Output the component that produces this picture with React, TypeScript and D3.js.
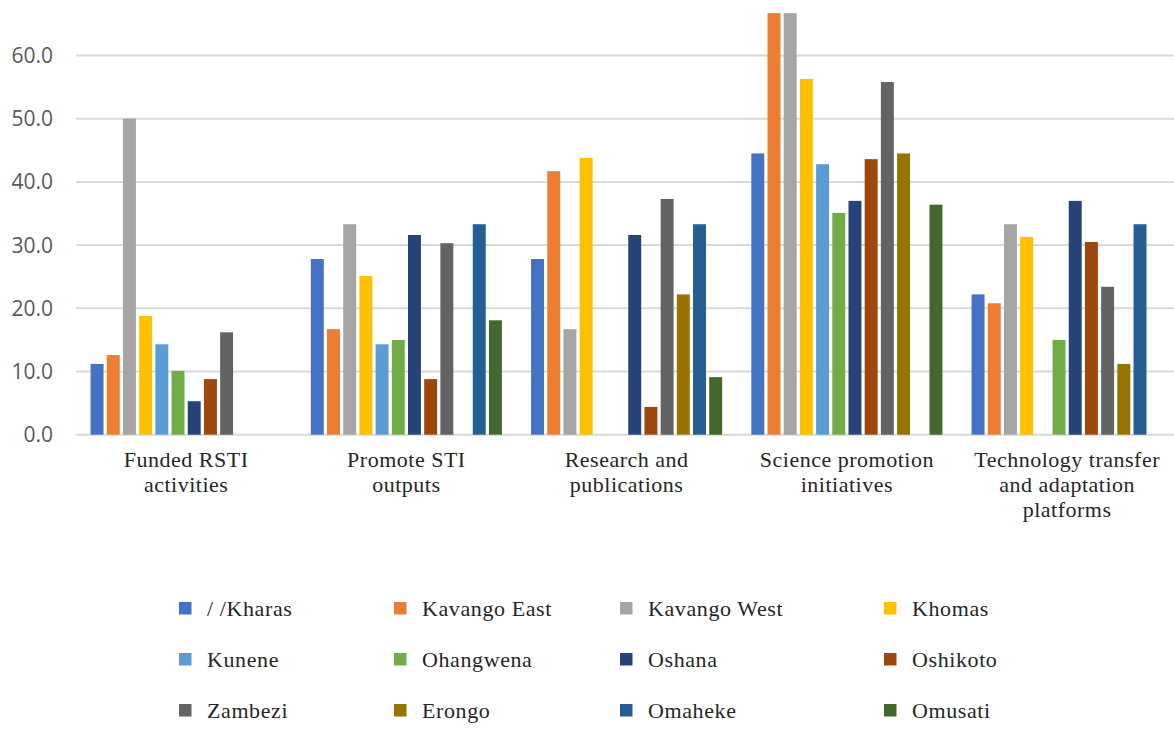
import { useRef, useEffect } from 'react';
import * as d3 from 'd3';

const categories = [
  ['Funded RSTI', 'activities'],
  ['Promote STI', 'outputs'],
  ['Research and', 'publications'],
  ['Science promotion', 'initiatives'],
  ['Technology transfer', 'and adaptation', 'platforms'],
];

const regions = [
  '/ /Kharas', 'Kavango East', 'Kavango West', 'Khomas',
  'Kunene', 'Ohangwena', 'Oshana', 'Oshikoto',
  'Zambezi', 'Erongo', 'Omaheke', 'Omusati',
];

const colors = [
  '#4472C4', '#ED7D31', '#A5A5A5', '#FFC000',
  '#5B9BD5', '#70AD47', '#264478', '#9E480E',
  '#636363', '#997300', '#255E91', '#43682B',
];

// one array per category, in region order (null = no bar)
const fundedRsti = [11.2, 12.6, 50.0, 18.8, 14.3, 10.1, 5.3, 8.8, 16.2, null, null, null];
const promoteSti = [27.8, 16.7, 33.3, 25.1, 14.3, 15.0, 31.6, 8.8, 30.3, null, 33.3, 18.1];
const research = [27.8, 41.7, 16.7, 43.8, null, null, 31.6, 4.4, 37.3, 22.2, 33.3, 9.1];
const sciencePromo = [44.5, 66.7, 66.7, 56.3, 42.8, 35.1, 37.0, 43.6, 55.8, 44.5, null, 36.4];
const techTransfer = [22.2, 20.8, 33.3, 31.3, null, 15.0, 37.0, 30.5, 23.4, 11.2, 33.3, null];

const yTicks = [0, 10, 20, 30, 40, 50, 60];

export default function App() {
  const svgRef = useRef<SVGSVGElement>(null);

  useEffect(() => {
    if (!svgRef.current) return;
    const svg = d3.select(svgRef.current);
    svg.selectAll('*').remove();

    const series = [fundedRsti, promoteSti, research, sciencePromo, techTransfer];
    const catKeys = categories.map(c => c.join(' '));

    const x0 = d3.scaleBand<string>().domain(catKeys).range([76, 1177.25]);
    const x1 = d3.scaleBand<string>().domain(regions)
      .range([0, x0.bandwidth()]).paddingInner(0.2).paddingOuter(0.9);
    const y = d3.scaleLinear().domain([0, 70]).range([434.7, -7.7]);

    // gridlines
    svg.append('g')
      .selectAll('line')
      .data(yTicks)
      .join('line')
      .attr('x1', 76).attr('x2', 1174)
      .attr('y1', d => y(d)).attr('y2', d => y(d))
      .attr('stroke', '#D9D9D9')
      .attr('stroke-width', 2);

    // y labels
    svg.append('g')
      .selectAll('text')
      .data(yTicks)
      .join('text')
      .attr('x', 53)
      .attr('y', d => y(d) + 7.5)
      .attr('text-anchor', 'end')
      .attr('font-family', 'Open Sans')
      .attr('font-size', 21)
      .attr('fill', '#595959')
      .text(d => d3.format('.1f')(d));

    // bars
    const groups = svg.append('g')
      .selectAll('g')
      .data(catKeys)
      .join('g')
      .attr('transform', d => `translate(${x0(d)},0)`);

    groups.selectAll('rect')
      .data((_, i) => series[i].map((v, j) => ({ region: regions[j], value: v, color: colors[j] })))
      .join('rect')
      .filter(d => d.value != null)
      .attr('x', d => x1(d.region) ?? 0)
      .attr('width', x1.bandwidth())
      .attr('y', d => y(d.value as number))
      .attr('height', d => y(0) - y(d.value as number))
      .attr('fill', d => d.color);

    // category labels
    categories.forEach((lines, i) => {
      const cx = (x0(catKeys[i]) ?? 0) + x0.bandwidth() / 2;
      const t = svg.append('text')
        .attr('text-anchor', 'middle')
        .attr('font-family', 'Liberation Serif')
        .attr('font-size', 22)
        .attr('letter-spacing', 0.5)
        .attr('fill', '#262626');
      lines.forEach((line, li) => {
        t.append('tspan').attr('x', cx).attr('y', 467 + li * 25).text(line);
      });
    });

    // legend
    const colX = [179, 394, 620, 884];
    const rowY = [608.5, 659.5, 710.5];
    const legend = svg.append('g');
    regions.forEach((name, i) => {
      const cx = colX[i % 4];
      const cy = rowY[Math.floor(i / 4)];
      legend.append('rect')
        .attr('x', cx).attr('y', cy - 6.5)
        .attr('width', 12.5).attr('height', 12.5)
        .attr('fill', colors[i]);
      legend.append('text')
        .attr('x', cx + 28).attr('y', cy + 7.5)
        .attr('font-family', 'Liberation Serif')
        .attr('font-size', 22)
        .attr('letter-spacing', 0.6)
        .attr('fill', '#262626')
        .text(name);
    });
  }, []);

  return (
    <svg
      ref={svgRef}
      width={1174}
      height={732}
      style={{ position: 'absolute', left: 0, top: 0, background: '#fff' }}
    />
  );
}
